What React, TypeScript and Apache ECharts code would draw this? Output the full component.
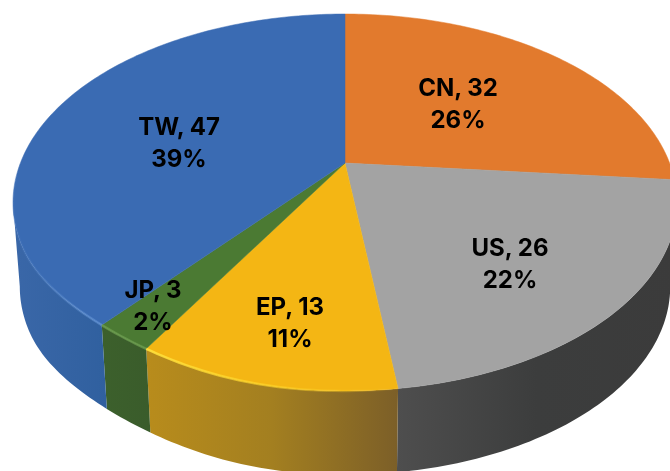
import React, { useEffect, useRef } from "react";
import * as echarts from "echarts";

const categories = ["CN", "US", "EP", "JP", "TW"];
const seriesValues = [32, 26, 13, 3, 47];
const percentLabels = ["26%", "22%", "11%", "2%", "39%"];

const topColors = ["#e27a2d", "#a3a3a3", "#f4b614", "#4b7a33", "#3a6bb3"];
const sideStops = [
  ["#e27a2d", "#e27a2d"],
  ["#4e4e4e", "#3c3d3d", "#3b3b3b"],
  ["#b88c1c", "#a37f20", "#7c5f28"],
  ["#3c602c", "#3a5c2b"],
  ["#3a67a8", "#30609f"],
];
const rimStops = [
  null,
  null,
  ["rgba(255,225,60,0.9)", "rgba(255,215,40,0.6)", "rgba(255,215,40,0)"],
  ["rgba(110,160,80,0.7)", "rgba(110,160,80,0.7)"],
  ["rgba(110,160,225,0.05)", "rgba(110,160,225,0.5)"],
];
const labelCentres = [
  [458, 103],
  [510, 263],
  [290, 322],
  [153, 305],
  [179, 142],
];

const PERSPECTIVE = 0.2095;
const APEX_X = 345;
const topPlane = { a: 324.6, b: 180.2, cy: 163 };
const bottomPlane = { a: 318, b: 180, cy: 247 };
const SILHOUETTE = (Math.acos(-PERSPECTIVE) * 180) / Math.PI;

function project(deg: number, plane: { a: number; b: number; cy: number }) {
  const t = (deg * Math.PI) / 180;
  const X = Math.sin(t);
  const Y = -Math.cos(t);
  const w = 1 - PERSPECTIVE * Y;
  // The reference's rim is slightly tighter on the lower left than a true projection.
  const bump =
    deg > 185 && deg < 245 ? Math.pow(Math.sin((Math.PI * (deg - 185)) / 60), 2) : 0;
  return [APEX_X + (plane.a * X) / w + 6.5 * bump, plane.cy + (plane.b * Y) / w - 2 * bump];
}

function arc(from: number, to: number, plane: { a: number; b: number; cy: number }) {
  const n = Math.max(2, Math.ceil(Math.abs(to - from)));
  const pts: number[][] = [];
  for (let i = 0; i <= n; i++) pts.push(project(from + ((to - from) * i) / n, plane));
  return pts;
}

function gradient(stops: string[]) {
  return {
    type: "linear",
    x: 0,
    y: 0,
    x2: 1,
    y2: 0,
    colorStops: stops.map((color, i) => ({ offset: i / (stops.length - 1), color })),
  };
}

export default function App() {
  const ref = useRef<HTMLDivElement>(null);
  useEffect(() => {
    const chart = echarts.init(ref.current!, null, { renderer: "svg" });
    const total = seriesValues.reduce((s, v) => s + v, 0);
    const renderItem = (params: any) => {
      const i = params.dataIndex;
      const before = seriesValues.slice(0, i).reduce((s, v) => s + v, 0);
      const start = (before / total) * 360;
      const end = ((before + seriesValues[i]) / total) * 360;
      const children: any[] = [];
      const sideFrom = Math.max(start, SILHOUETTE);
      const sideTo = Math.min(end, 360 - SILHOUETTE);
      if (sideTo > sideFrom) {
        children.push({
          type: "polygon",
          shape: { points: [...arc(sideFrom, sideTo, topPlane), ...arc(sideTo, sideFrom, bottomPlane)] },
          style: { fill: gradient(sideStops[i]) },
        });
      }
      children.push({
        type: "polygon",
        z2: 2,
        shape: { points: [[APEX_X, topPlane.cy], ...arc(start, end, topPlane)] },
        style: { fill: topColors[i], stroke: topColors[i], lineWidth: 0.5 },
      });
      const rim = rimStops[i];
      if (rim) {
        const rimEnd = Math.min(end, 360 - SILHOUETTE + 8);
        children.push({
          type: "polyline",
          z2: 3,
          shape: { points: arc(start, rimEnd, topPlane) },
          style: { fill: "none", lineWidth: 2.5, stroke: gradient(rim) },
        });
      }
      children.push({
        type: "text",
        z2: 10,
        x: labelCentres[i][0],
        y: labelCentres[i][1],
        style: {
          text: `${categories[i]}, ${seriesValues[i]}\n${percentLabels[i]}`,
          align: "center",
          verticalAlign: "middle",
          font: "700 24px Inter, 'Liberation Sans', sans-serif",
          lineHeight: 32,
          fill: "#000000",
        },
      });
      return { type: "group", children };
    };
    chart.setOption({
      animation: false,
      backgroundColor: "#ffffff",
      series: [
        {
          type: "custom",
          coordinateSystem: "none",
          silent: true,
          clip: false,
          renderItem,
          data: seriesValues.map((v, i) => ({ name: categories[i], value: [v] })),
        },
      ],
    });
    return () => chart.dispose();
  }, []);
  return (
    <div
      ref={ref}
      style={{
        position: "absolute",
        left: 0,
        top: 0,
        width: 670,
        height: 471,
        overflow: "hidden",
        filter: "blur(0.5px)",
      }}
    />
  );
}
